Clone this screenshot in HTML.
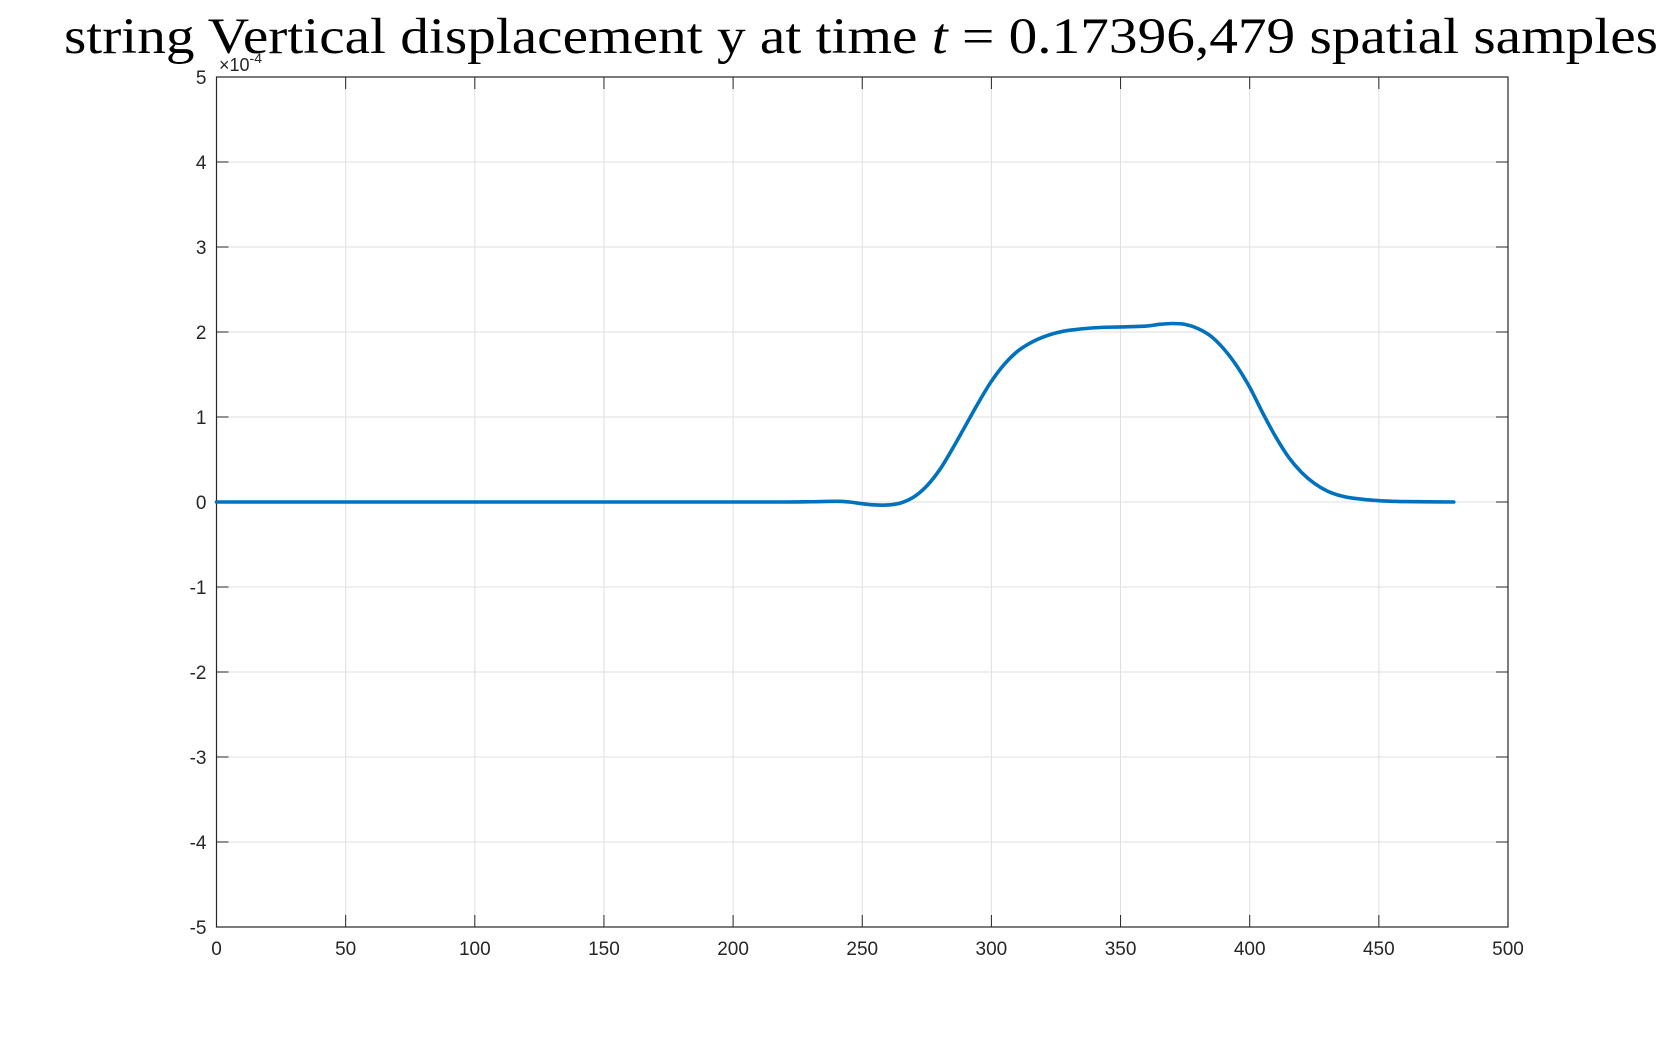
<!DOCTYPE html>
<html><head><meta charset="utf-8"><style>
html,body{margin:0;padding:0;background:#fff;}
svg{display:block;font-family:"Liberation Sans",sans-serif;}
</style></head><body>
<svg id="chart" width="1667" height="1042" viewBox="0 0 1667 1042" xmlns="http://www.w3.org/2000/svg"></svg>
<script>
const xTicks=[0,50,100,150,200,250,300,350,400,450,500];
const yTicks=[-5,-4,-3,-2,-1,0,1,2,3,4,5];
const xs=[0,20,40,60,80,100,120,140,160,180,200,220,230,240,245,250,255,260,265,270,275,280,285,290,295,300,305,310,315,320,325,330,340,350,360,365,370,375,380,385,390,395,400,405,410,415,420,425,430,435,440,450,460,479];
const ys=[0,0,0,0,0,0,0,0,0,0,0,0,0.003,0.008,0.0,-0.02,-0.035,-0.035,-0.01,0.06,0.19,0.38,0.63,0.9,1.17,1.42,1.62,1.77,1.87,1.94,1.99,2.02,2.05,2.06,2.07,2.09,2.10,2.09,2.04,1.95,1.80,1.60,1.35,1.05,0.77,0.53,0.35,0.22,0.13,0.075,0.045,0.015,0.005,0];
const L=216.5,R=1508,T=77,B=927;
const sx=v=>L+(v-0)/500*(R-L);
const sy=v=>B-(v+5)/10*(B-T);
const svg=document.getElementById('chart');
const NS='http://www.w3.org/2000/svg';
function mk(t,a,p){const e=document.createElementNS(NS,t);for(const k in a)e.setAttribute(k,a[k]);(p||svg).appendChild(e);return e;}
const bg=mk('rect',{x:L,y:T,width:R-L,height:B-T,fill:'#fff'});


xTicks.forEach(v=>{const x=sx(v);
 const g=mk('line',{x1:x,x2:x,y1:T,y2:B,stroke:'#dfdfdf','stroke-width':1});
 
 
 mk('line',{x1:x,x2:x,y1:B,y2:B-12,stroke:'#262626','stroke-width':1});
 mk('line',{x1:x,x2:x,y1:T,y2:T+12,stroke:'#262626','stroke-width':1});
 const t=mk('text',{x:x,y:B+28,'text-anchor':'middle','font-size':19,fill:'#262626'});t.textContent=v;
 
 
});
yTicks.forEach(v=>{const y=sy(v);
 const g=mk('line',{x1:L,x2:R,y1:y,y2:y,stroke:'#dfdfdf','stroke-width':1});
 
 
 mk('line',{x1:L,x2:L+12,y1:y,y2:y,stroke:'#262626','stroke-width':1});
 mk('line',{x1:R,x2:R-12,y1:y,y2:y,stroke:'#262626','stroke-width':1});
 const t=mk('text',{x:L-10,y:y+7,'text-anchor':'end','font-size':19,fill:'#262626'});t.textContent=v;
 
 
});
const box=mk('rect',{x:L,y:T,width:R-L,height:B-T,fill:'none',stroke:'#262626','stroke-width':1.2});


const P=xs.map((v,i)=>[sx(v),sy(ys[i])]);
let d='M'+P[0][0].toFixed(2)+','+P[0][1].toFixed(2);
for(let i=0;i<P.length-1;i++){
 const p0=P[Math.max(0,i-1)],p1=P[i],p2=P[i+1],p3=P[Math.min(P.length-1,i+2)];
 const c1=[p1[0]+(p2[0]-p0[0])/6,p1[1]+(p2[1]-p0[1])/6];
 const c2=[p2[0]-(p3[0]-p1[0])/6,p2[1]-(p3[1]-p1[1])/6];
 d+=' C'+c1[0].toFixed(2)+','+c1[1].toFixed(2)+' '+c2[0].toFixed(2)+','+c2[1].toFixed(2)+' '+p2[0].toFixed(2)+','+p2[1].toFixed(2);
}
const line=mk('path',{d:d,fill:'none',stroke:'#0072BD','stroke-width':3.6,'stroke-linejoin':'round','stroke-linecap':'round'});


const ex=mk('text',{x:219,y:71,'font-size':18,fill:'#262626'});


ex.innerHTML='×10<tspan dy="-8" font-size="14">-4</tspan>';
const title=mk('text',{x:64,y:53,'font-size':51,fill:'#000','font-family':'"Liberation Serif",serif',textLength:1594,lengthAdjust:'spacingAndGlyphs'});


title.innerHTML='string Vertical displacement y at time <tspan font-style="italic">t</tspan> = 0.17396,479 spatial samples';
</script>
</body></html>
